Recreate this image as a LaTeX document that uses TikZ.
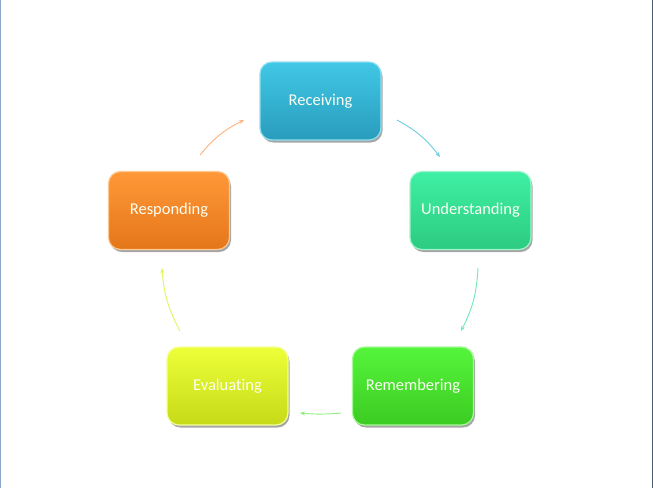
\documentclass[tikz,border=0pt]{standalone}
\usepackage{fontspec}
\setmainfont{Carlito}[Ligatures=NoCommon]
\usetikzlibrary{shadows,arrows.meta}
\definecolor{recT}{HTML}{40C8E6}\definecolor{recB}{HTML}{2A9CBC}\definecolor{recL}{HTML}{8FE0F2}
\definecolor{undT}{HTML}{3FF0A4}\definecolor{undB}{HTML}{2CCB80}\definecolor{undL}{HTML}{9AF7CC}
\definecolor{remT}{HTML}{55F53C}\definecolor{remB}{HTML}{3CCB22}\definecolor{remL}{HTML}{A4FA94}
\definecolor{evaT}{HTML}{ECFF38}\definecolor{evaB}{HTML}{C6DA18}\definecolor{evaL}{HTML}{F4FF9A}
\definecolor{resT}{HTML}{FF9838}\definecolor{resB}{HTML}{E4761A}\definecolor{resL}{HTML}{FFC890}
\definecolor{arRec}{HTML}{6ACDE3}\definecolor{arUnd}{HTML}{6EEBB4}\definecolor{arRem}{HTML}{90F07E}
\definecolor{arEva}{HTML}{E2F560}\definecolor{arRes}{HTML}{FFB27A}
\definecolor{edgeL}{HTML}{8AA6C8}\definecolor{edgeR}{HTML}{4C5C74}
\definecolor{txt}{HTML}{FCFFF4}
\tikzset{
  stagebox/.style n args={3}{rectangle, rounded corners=12pt, minimum width=121pt, minimum height=78pt,
    top color=#1, bottom color=#2, draw=#3, line width=1.2pt, text=txt,
    font=\fontsize{16.5}{18}\selectfont, inner sep=0pt,
    drop shadow={shadow xshift=1.5pt, shadow yshift=-2.5pt, fill=black, opacity=0.35}},
  cyc/.style={-{Stealth[length=5pt,width=4pt]}, line width=0.9pt}
}
\begin{document}
\begin{tikzpicture}[x=1pt,y=-1pt]
\fill[white] (0,0) rectangle (653,488);
\useasboundingbox (0,0) rectangle (653,488);
\fill[edgeL] (0,0) rectangle (1.2,488);
\fill[edgeR] (651.5,0) rectangle (653,488);
\node[stagebox={recT}{recB}{recL}] (rec) at (320.5,101) {Receiving};
\node[stagebox={undT}{undB}{undL}] (und) at (470.5,210.5) {Understanding};
\node[stagebox={remT}{remB}{remL}] (rem) at (413,386) {Remembering};
\node[stagebox={evaT}{evaB}{evaL}] (eva) at (227.5,386) {Evaluating};
\node[stagebox={resT}{resB}{resL}] (res) at (169,210.5) {Responding};
\coordinate (a1s) at (397,120); \coordinate (a1e) at (440,157);
\coordinate (a2s) at (478,268); \coordinate (a2e) at (461,331);
\coordinate (a3s) at (341,413); \coordinate (a3e) at (300,413);
\coordinate (a4s) at (180,331); \coordinate (a4e) at (162,268);
\coordinate (a5s) at (200,155); \coordinate (a5e) at (244,120);
\draw[cyc, arRec] (a1s) to[bend left=12] (a1e);
\draw[cyc, arUnd] (a2s) to[bend left=12] (a2e);
\draw[cyc, arRem] (a3s) to[bend left=5] (a3e);
\draw[cyc, arEva] (a4s) to[bend left=12] (a4e);
\draw[cyc, arRes] (a5s) to[bend left=12] (a5e);
\end{tikzpicture}
\end{document}
